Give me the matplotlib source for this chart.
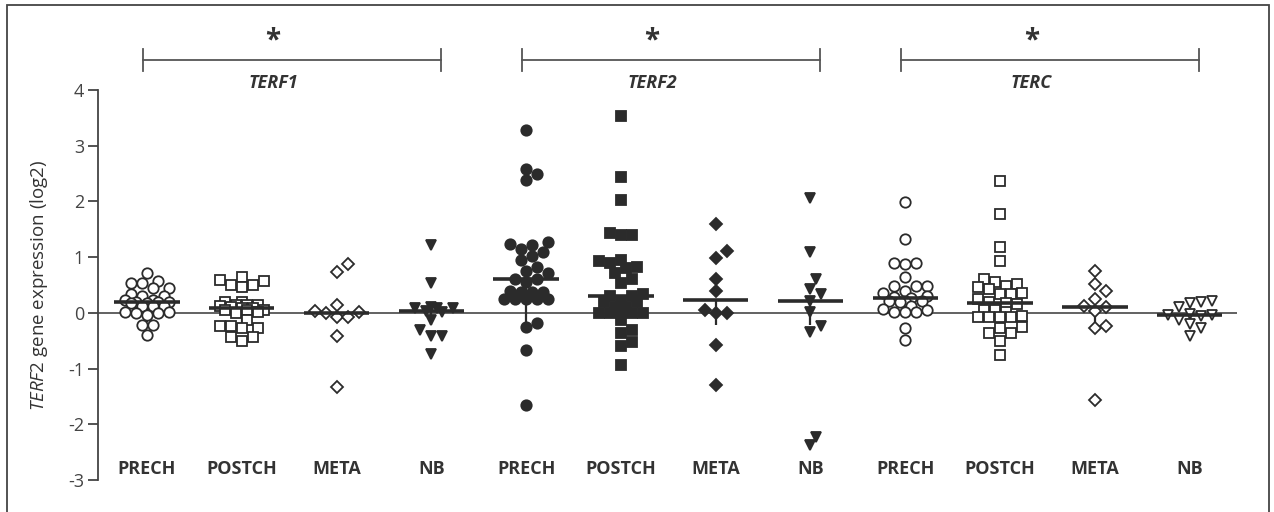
import matplotlib
matplotlib.use('Agg')
import matplotlib.pyplot as plt
import numpy as np
from matplotlib.patches import Rectangle

plt.rcParams['font.family'] = ['Open Sans', 'DejaVu Sans']
plt.rcParams['mathtext.fontset'] = 'custom'
plt.rcParams['mathtext.rm'] = 'Open Sans'
plt.rcParams['mathtext.it'] = 'Open Sans:italic'
plt.rcParams['axes.unicode_minus'] = False

# data (log2 expression)
genes = ['TERF1', 'TERF2', 'TERC']
groups = ['PRECH', 'POSTCH', 'META', 'NB']

terf1_prech = [0.71, 0.57, 0.54, 0.53, 0.44, 0.44, 0.34, 0.30, 0.30, 0.23, 0.23, 0.20, 0.20, 0.19,
               0.18, 0.17, 0.12, 0.12, 0.12, 0.02, 0.02, -0.01, -0.01, -0.04, -0.22, -0.22, -0.40]
terf1_postch = [0.65, 0.59, 0.58, 0.50, 0.50, 0.46, 0.20, 0.20, 0.14, 0.14, 0.14, 0.12, 0.10, 0.09,
                0.08, 0.05, 0.05, 0.05, 0.02, -0.01, -0.13, -0.24, -0.24, -0.28, -0.28, -0.44, -0.44, -0.50]
terf1_meta = [0.88, 0.74, 0.14, 0.04, 0.01, -0.01, -0.07, -0.07, -0.42, -1.33]
terf1_nb = [1.22, 0.53, 0.10, 0.08, 0.08, 0.08, 0.04, 0.02, -0.13, -0.31, -0.42, -0.42, -0.73]

terf2_prech = [3.29, 2.59, 2.50, 2.39, 1.27, 1.24, 1.21, 1.15, 1.09, 1.02, 0.94, 0.82, 0.76, 0.72, 0.60,
               0.60, 0.55, 0.40, 0.38, 0.38, 0.37, 0.25, 0.24, 0.24, 0.24, 0.24, -0.18, -0.26, -0.66, -1.66]
terf2_postch = [3.53, 2.44, 2.03, 1.43, 1.40, 1.39, 0.94, 0.93, 0.90, 0.82, 0.81, 0.72, 0.60, 0.54, 0.34,
                0.31, 0.31, 0.21, 0.19, 0.19, 0.10, 0.10, 0.00, 0.00, 0.00, 0.00, 0.00, -0.12, -0.31,
                -0.37, -0.52, -0.60, -0.93]
terf2_meta = [1.60, 1.11, 0.99, 0.61, 0.40, 0.06, -0.01, 0.00, -0.57, -1.30]
terf2_nb = [2.07, 1.09, 0.60, 0.43, 0.34, 0.21, 0.01, -0.24, -0.34, -2.22, -2.38]

terc_prech = [1.99, 1.32, 0.90, 0.90, 0.88, 0.64, 0.49, 0.49, 0.48, 0.40, 0.36, 0.31, 0.28, 0.26,
              0.22, 0.22, 0.22, 0.20, 0.12, 0.07, 0.05, 0.02, 0.02, 0.01, -0.27, -0.48]
terc_postch = [2.37, 1.77, 1.18, 0.93, 0.60, 0.55, 0.52, 0.49, 0.46, 0.43, 0.36, 0.34, 0.34, 0.25, 0.20,
               0.18, 0.16, 0.06, 0.06, 0.02, -0.05, -0.07, -0.07, -0.07, -0.07, -0.25, -0.28, -0.36,
               -0.36, -0.51, -0.75]
terc_meta = [0.75, 0.52, 0.39, 0.25, 0.12, 0.10, 0.04, -0.24, -0.27, -1.57]
terc_nb = [0.22, 0.19, 0.18, 0.10, -0.02, -0.03, -0.04, -0.05, -0.12, -0.20, -0.28, -0.42]

# lower end of the error whisker under each median line
whisker_low = [-0.17, -0.17, -0.19, -0.22, -0.19, -0.09, -0.21, -0.22, -0.10, -0.13, -0.16, -0.22]

all_sets = [terf1_prech, terf1_postch, terf1_meta, terf1_nb,
            terf2_prech, terf2_postch, terf2_meta, terf2_nb,
            terc_prech, terc_postch, terc_meta, terc_nb]
# which sets are drawn with solid markers
filled = [False, False, False, True,
          True, True, True, True,
          False, False, False, False]

markers = {'PRECH': ('o', 7.5), 'POSTCH': ('s', 7.5), 'META': ('D', 6.0), 'NB': ('v', 7.0)}
ink = '#2b2b2b'

W, H = 1274, 512
fig = plt.figure(figsize=(W / 100, H / 100), dpi=100)
ax = fig.add_axes([98 / W, 32 / H, (1237 - 98) / W, 390 / H])
ax.set_xlim(-0.517, 11.5)
ax.set_ylim(-3, 4)

# pixel scales, used for the beeswarm spread
px_x = (1237 - 98) / (11.5 + 0.517)
px_y = 390 / 7.0


def swarm(vals, d=11.0, max_off=24.0):
    vals = np.asarray(vals)
    offs = np.zeros(len(vals))
    placed = []
    step = d / 2
    cands = [0.0]
    k = 1
    while k * step <= max_off:
        cands += [k * step, -k * step]
        k += 1
    for i in np.argsort(vals):
        y = vals[i] * px_y
        best, best_gap = 0.0, -1
        for x in cands:
            gap = min([np.hypot(x - a, y - b) for a, b in placed] or [1e9])
            if gap >= d * 0.95:
                best = x
                break
            if gap > best_gap:
                best, best_gap = x, gap
        placed.append((best, y))
        offs[i] = best / px_x
    return offs


ax.axhline(0, color='#555555', lw=1.3, zorder=1)

idx = 0
for g, gene in enumerate(genes):
    for k, grp in enumerate(groups):
        vals = np.array(all_sets[idx])
        xs = idx + swarm(vals)
        m, ms = markers[grp]
        face = ink if filled[idx] else 'white'
        ax.plot(xs, vals, linestyle='none', marker=m, markersize=ms,
                mfc=face, mec=ink, mew=1.3, zorder=3)
        med = np.median(vals)
        ax.vlines(idx, whisker_low[idx], med, color=ink, lw=1.6, zorder=2)
        ax.hlines(med, idx - 0.345, idx + 0.345, color=ink, lw=2.6, zorder=4)
        ax.text(idx, -2.9, grp, ha='center', va='baseline', fontsize=13,
                fontweight='bold', color='#333333')
        idx += 1

    # significance bracket above each gene
    x0, x1 = g * 4 - 0.04, g * 4 + 3.1
    ax.plot([x0, x1], [4.54, 4.54], color='#555555', lw=1.3, clip_on=False)
    ax.plot([x0, x0], [4.34, 4.73], color='#555555', lw=1.3, clip_on=False)
    ax.plot([x1, x1], [4.34, 4.73], color='#555555', lw=1.3, clip_on=False)
    ax.text(g * 4 + 1.33, 4.74, '*', ha='center', va='baseline', fontsize=20,
            fontweight='bold', color='#333333', clip_on=False)
    ax.text(g * 4 + 1.33, 4.04, gene, ha='center', va='baseline', fontsize=13,
            fontweight='bold', style='italic', color='#333333', clip_on=False)

for s in ['top', 'right', 'bottom']:
    ax.spines[s].set_visible(False)
ax.spines['left'].set_color('#444444')
ax.spines['left'].set_linewidth(1.3)
ax.set_xticks([])
ax.set_yticks(range(-3, 5))
ax.tick_params(axis='y', length=7, width=1.3, color='#444444', labelcolor='#444444',
               labelsize=13, pad=3)
ax.set_ylabel(r'$\it{TERF2}$ gene expression (log2)', fontsize=13.5, color='#333333')
ax.yaxis.set_label_coords(-0.042, 0.5)

# thin frame around the whole panel
fig.patches.append(Rectangle((7 / W, -0.05), (1269 - 7) / W, (H - 5) / H + 0.05,
                             transform=fig.transFigure, fill=False,
                             edgecolor='#444444', lw=1.3))

fig.savefig('out.png', dpi=100)
